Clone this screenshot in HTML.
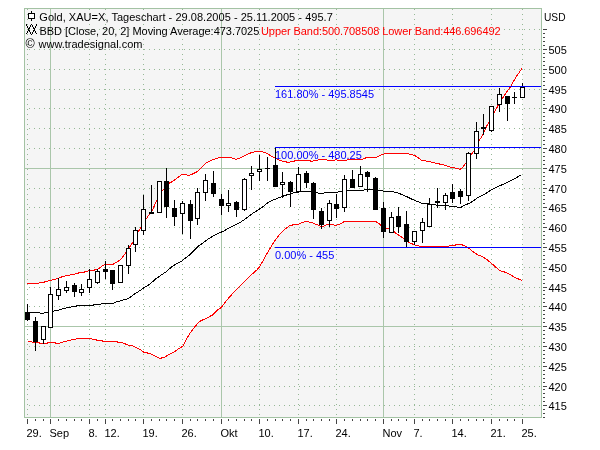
<!DOCTYPE html><html><head><meta charset="utf-8"><title>Gold XAU=X Tageschart</title><style>
html,body{margin:0;padding:0;background:#fff;width:600px;height:450px;overflow:hidden}
svg{display:block;font-family:"Liberation Sans",Arial,sans-serif;font-size:11px}
</style></head><body>
<svg width="600" height="450" viewBox="0 0 600 450">
<rect x="24" y="8" width="518" height="410" fill="#f5f5f5"/>
<polygon points="25,283.5 27,283.5 38,283.5 39,282.8 44,282.2 46,281.5 50,280.5 53,279.7 57,278.8 60,277.8 62,276.8 66,275.8 71,274.8 76,273.8 80,272.5 84,272.5 85.3,271.3 90.7,270.7 94,270.2 96.7,269.3 98.7,268.7 100.7,267 103.3,265.3 106,264.5 112.7,264.5 114.7,263.3 117.3,261.7 120,260 122.7,257 124.7,254.2 126,252 131.2,244.8 132.6,242.6 139.1,230.3 140.6,228.2 146.3,218.8 149.2,214.5 152.1,210.8 154.3,205.8 156.7,200.2 162.4,190.4 163.8,189.1 169.1,183.3 173.1,181.1 176.6,178.4 180.6,175.3 182.4,174.3 186,174.5 188,175.3 191,174.8 194,173.3 197,171.8 201,167.8 206,162.8 211,160.5 216,158.5 220,157.5 230,157.5 233,158.3 236,159.5 241,157.5 246,155 251,152.8 256,151.5 260,151 264,152.2 268,154 272,156.5 275,157.8 279,160 283,161.3 288,162.3 292,161.8 296,160.5 309,160.5 311,161.2 315,160.8 320,159.5 326,159.5 327,160.2 336,160 346,160.2 349,159.5 362,159.5 366,157.8 376,157.5 379,155.8 383,154.3 387,153.2 408,153.2 410,154.5 413,155 416,156.2 421,160 426,161 431,162 436,163.3 441,164.3 446,165.5 451,167.5 456,168.2 460,169.3 463,167 466,163 471,155 474,151 478,142.5 482.7,135 486,127.5 489,122 495,111.3 499.3,103 506,93 511,86 516,77 522,68.5 522.5,68.5 522.5,280.5 522,280.5 516,278 510,274.5 504,271.8 500,270.8 495,266.5 490,262 486,259 482,256.5 478,255 474,252.5 470,249.2 468,247.8 466,246.5 463,245.3 461,244.3 456.5,244.3 455,245.3 450,245.3 449,246 419,246 416,245.3 413,244.2 409,242.5 404,239 400,236 396,233.5 394,231.5 389,228.2 386,228.2 381,226 380,224.5 377,222.2 375.5,221.5 344,221.7 340,224 336,225.3 330,224.5 326,225 323,226.3 320,226 316,224.3 311,222.3 306,221.5 302,222.5 299,224.2 294,224.6 289.1,225.9 283.6,230.4 279.3,234.7 274.4,241.4 270.2,248.1 265.9,255.5 262.2,262.2 259.8,266.5 256.8,270 251.8,274.4 247.7,278.6 240.3,285.9 233,293.2 226.3,300.6 221.4,307.3 217.1,310.3 212.2,315.2 206.1,318.3 200,321.3 199,322 195,326.5 190,333 186,340 183,346.2 179,348.5 174,352 169,354.5 164,357.5 160,358.3 156,356.5 152,354.5 149,353.3 144,352.3 140,349.5 136,347.5 134,346.3 129,345.2 126,344.3 124,343.3 122,342.5 118,342.2 116,341.3 103,341.3 102,340.5 97,340.2 96,339.7 92,339.2 91,338.3 84,338.3 78,338.5 72,339.8 68,340.8 64,341.8 61,342.5 59,343.3 56,343.3 55,342.5 48,342.5 47,343.3 40,343.3 39,342.5 32,342 28,341.3 25,341.3" fill="#ffffff"/>
<line x1="25" y1="405.5" x2="541" y2="405.5" stroke="#96b896" stroke-width="1" stroke-dasharray="1 4" stroke-dashoffset="-4"/>
<line x1="25" y1="386.5" x2="541" y2="386.5" stroke="#96b896" stroke-width="1" stroke-dasharray="1 4" stroke-dashoffset="-4"/>
<line x1="25" y1="366.5" x2="541" y2="366.5" stroke="#96b896" stroke-width="1" stroke-dasharray="1 4" stroke-dashoffset="-4"/>
<line x1="25" y1="346.5" x2="541" y2="346.5" stroke="#96b896" stroke-width="1" stroke-dasharray="1 4" stroke-dashoffset="-4"/>
<line x1="25" y1="326.5" x2="541" y2="326.5" stroke="#96b896" stroke-width="1" stroke-dasharray="1 4" stroke-dashoffset="-4"/>
<line x1="25" y1="306.5" x2="541" y2="306.5" stroke="#96b896" stroke-width="1" stroke-dasharray="1 4" stroke-dashoffset="-4"/>
<line x1="25" y1="287.5" x2="541" y2="287.5" stroke="#96b896" stroke-width="1" stroke-dasharray="1 4" stroke-dashoffset="-4"/>
<line x1="25" y1="267.5" x2="541" y2="267.5" stroke="#96b896" stroke-width="1" stroke-dasharray="1 4" stroke-dashoffset="-4"/>
<line x1="25" y1="247.5" x2="541" y2="247.5" stroke="#96b896" stroke-width="1" stroke-dasharray="1 4" stroke-dashoffset="-4"/>
<line x1="25" y1="227.5" x2="541" y2="227.5" stroke="#96b896" stroke-width="1" stroke-dasharray="1 4" stroke-dashoffset="-4"/>
<line x1="25" y1="207.5" x2="541" y2="207.5" stroke="#96b896" stroke-width="1" stroke-dasharray="1 4" stroke-dashoffset="-4"/>
<line x1="25" y1="188.5" x2="541" y2="188.5" stroke="#96b896" stroke-width="1" stroke-dasharray="1 4" stroke-dashoffset="-4"/>
<line x1="25" y1="168.5" x2="541" y2="168.5" stroke="#96b896" stroke-width="1" stroke-dasharray="1 4" stroke-dashoffset="-4"/>
<line x1="25" y1="148.5" x2="541" y2="148.5" stroke="#96b896" stroke-width="1" stroke-dasharray="1 4" stroke-dashoffset="-4"/>
<line x1="25" y1="128.5" x2="541" y2="128.5" stroke="#96b896" stroke-width="1" stroke-dasharray="1 4" stroke-dashoffset="-4"/>
<line x1="25" y1="108.5" x2="541" y2="108.5" stroke="#96b896" stroke-width="1" stroke-dasharray="1 4" stroke-dashoffset="-4"/>
<line x1="25" y1="89.5" x2="541" y2="89.5" stroke="#96b896" stroke-width="1" stroke-dasharray="1 4" stroke-dashoffset="-4"/>
<line x1="25" y1="69.5" x2="541" y2="69.5" stroke="#96b896" stroke-width="1" stroke-dasharray="1 4" stroke-dashoffset="-4"/>
<line x1="25" y1="49.5" x2="541" y2="49.5" stroke="#96b896" stroke-width="1" stroke-dasharray="1 4" stroke-dashoffset="-4"/>
<line x1="25" y1="29.5" x2="541" y2="29.5" stroke="#96b896" stroke-width="1" stroke-dasharray="1 4" stroke-dashoffset="-4"/>
<line x1="27.5" y1="9" x2="27.5" y2="417" stroke="#96b896" stroke-width="1" stroke-dasharray="1 4"/>
<line x1="89.5" y1="9" x2="89.5" y2="417" stroke="#96b896" stroke-width="1" stroke-dasharray="1 4"/>
<line x1="105.5" y1="9" x2="105.5" y2="417" stroke="#96b896" stroke-width="1" stroke-dasharray="1 4"/>
<line x1="143.5" y1="9" x2="143.5" y2="417" stroke="#96b896" stroke-width="1" stroke-dasharray="1 4"/>
<line x1="182.5" y1="9" x2="182.5" y2="417" stroke="#96b896" stroke-width="1" stroke-dasharray="1 4"/>
<line x1="259.5" y1="9" x2="259.5" y2="417" stroke="#96b896" stroke-width="1" stroke-dasharray="1 4"/>
<line x1="298.5" y1="9" x2="298.5" y2="417" stroke="#96b896" stroke-width="1" stroke-dasharray="1 4"/>
<line x1="336.5" y1="9" x2="336.5" y2="417" stroke="#96b896" stroke-width="1" stroke-dasharray="1 4"/>
<line x1="414.5" y1="9" x2="414.5" y2="417" stroke="#96b896" stroke-width="1" stroke-dasharray="1 4"/>
<line x1="452.5" y1="9" x2="452.5" y2="417" stroke="#96b896" stroke-width="1" stroke-dasharray="1 4"/>
<line x1="491.5" y1="9" x2="491.5" y2="417" stroke="#96b896" stroke-width="1" stroke-dasharray="1 4"/>
<line x1="522.5" y1="9" x2="522.5" y2="417" stroke="#96b896" stroke-width="1" stroke-dasharray="1 4"/>
<line x1="25" y1="326.5" x2="541" y2="326.5" stroke="#aac6aa" stroke-width="1"/>
<line x1="25" y1="168.5" x2="541" y2="168.5" stroke="#aac6aa" stroke-width="1"/>
<line x1="50.5" y1="9" x2="50.5" y2="417" stroke="#aac6aa" stroke-width="1"/>
<line x1="221.5" y1="9" x2="221.5" y2="417" stroke="#aac6aa" stroke-width="1"/>
<line x1="383.5" y1="9" x2="383.5" y2="417" stroke="#aac6aa" stroke-width="1"/>
<rect x="24.5" y="8.5" width="517" height="409" fill="none" stroke="#a3c2a3" stroke-width="1"/>
<polyline points="27,283.5 38,283.5 39,282.8 44,282.2 46,281.5 50,280.5 53,279.7 57,278.8 60,277.8 62,276.8 66,275.8 71,274.8 76,273.8 80,272.5 84,272.5 85.3,271.3 90.7,270.7 94,270.2 96.7,269.3 98.7,268.7 100.7,267 103.3,265.3 106,264.5 112.7,264.5 114.7,263.3 117.3,261.7 120,260 122.7,257 124.7,254.2 126,252 131.2,244.8 132.6,242.6 139.1,230.3 140.6,228.2 146.3,218.8 149.2,214.5 152.1,210.8 154.3,205.8 156.7,200.2 162.4,190.4 163.8,189.1 169.1,183.3 173.1,181.1 176.6,178.4 180.6,175.3 182.4,174.3 186,174.5 188,175.3 191,174.8 194,173.3 197,171.8 201,167.8 206,162.8 211,160.5 216,158.5 220,157.5 230,157.5 233,158.3 236,159.5 241,157.5 246,155 251,152.8 256,151.5 260,151 264,152.2 268,154 272,156.5 275,157.8 279,160 283,161.3 288,162.3 292,161.8 296,160.5 309,160.5 311,161.2 315,160.8 320,159.5 326,159.5 327,160.2 336,160 346,160.2 349,159.5 362,159.5 366,157.8 376,157.5 379,155.8 383,154.3 387,153.2 408,153.2 410,154.5 413,155 416,156.2 421,160 426,161 431,162 436,163.3 441,164.3 446,165.5 451,167.5 456,168.2 460,169.3 463,167 466,163 471,155 474,151 478,142.5 482.7,135 486,127.5 489,122 495,111.3 499.3,103 506,93 511,86 516,77 522,68.5" fill="none" stroke="#ff0000" stroke-width="1" shape-rendering="crispEdges"/>
<polyline points="28,341.3 32,342 39,342.5 40,343.3 47,343.3 48,342.5 55,342.5 56,343.3 59,343.3 61,342.5 64,341.8 68,340.8 72,339.8 78,338.5 84,338.3 91,338.3 92,339.2 96,339.7 97,340.2 102,340.5 103,341.3 116,341.3 118,342.2 122,342.5 124,343.3 126,344.3 129,345.2 134,346.3 136,347.5 140,349.5 144,352.3 149,353.3 152,354.5 156,356.5 160,358.3 164,357.5 169,354.5 174,352 179,348.5 183,346.2 186,340 190,333 195,326.5 199,322 200,321.3 206.1,318.3 212.2,315.2 217.1,310.3 221.4,307.3 226.3,300.6 233,293.2 240.3,285.9 247.7,278.6 251.8,274.4 256.8,270 259.8,266.5 262.2,262.2 265.9,255.5 270.2,248.1 274.4,241.4 279.3,234.7 283.6,230.4 289.1,225.9 294,224.6 299,224.2 302,222.5 306,221.5 311,222.3 316,224.3 320,226 323,226.3 326,225 330,224.5 336,225.3 340,224 344,221.7 375.5,221.5 377,222.2 380,224.5 381,226 386,228.2 389,228.2 394,231.5 396,233.5 400,236 404,239 409,242.5 413,244.2 416,245.3 419,246 449,246 450,245.3 455,245.3 456.5,244.3 461,244.3 463,245.3 466,246.5 468,247.8 470,249.2 474,252.5 478,255 482,256.5 486,259 490,262 495,266.5 500,270.8 504,271.8 510,274.5 516,278 522,280.5" fill="none" stroke="#ff0000" stroke-width="1" shape-rendering="crispEdges"/>
<polyline points="25,312.2 39,312.2 40,313.2 44,313.2 45,312.2 48,312.2 53,311.2 59,310.2 60,309.2 64,308.8 66,308 70,307.2 74,306.5 78,305.7 84,305.4 93,305.3 94,304.5 101,304 102,303.3 114,303 115,302.3 119,301.3 122,300.3 126,299.3 130,297.5 133,295 137,292.5 140,290.5 144,287.7 149.6,284.4 155.1,279.4 160.7,275.3 166.2,271.7 171.8,266.7 177.3,263.3 181.8,261.1 185.1,258.3 189.6,255 194,250.6 198.4,246.1 204,242.2 209,238.5 214,235.5 219,233 224,231 229,228 234,225.5 239,223 244,220 249,216 254,212.5 259,209.5 264,205.8 268,202.5 272,200.5 277,198.5 282,196.5 285,195.5 289,194.2 293,193 297,192.3 302,191.5 310,191.5 312,192 317,192.8 318.5,193.3 324,193 325,192.3 338,192.3 339,191.3 342,191.3 347,190 364,190 365,189.2 373,189.2 378,190 382,190.8 384,191.2 392.5,191.2 394,192 397,192.8 400,193.8 403,195 407,196.8 411,198.8 415,200.5 419,202 422,203.3 426,203.3 430,204 434,204.8 440,205.3 444,205.3 449.3,206 457.3,207.1 461.3,207.1 465.3,204.9 470.7,202.7 477.3,198 484,194.7 492,189.3 500,185.7 508,182 514.7,178.7 521.3,174.7" fill="none" stroke="#000000" stroke-width="1" shape-rendering="crispEdges"/>
<g shape-rendering="crispEdges">
<rect x="27" y="304" width="1" height="9" fill="#000"/>
<rect x="27" y="320" width="1" height="1" fill="#000"/>
<rect x="25" y="313" width="5" height="7" fill="#000"/>
<rect x="35" y="317" width="1" height="4" fill="#000"/>
<rect x="35" y="342" width="1" height="9" fill="#000"/>
<rect x="33" y="321" width="5" height="21" fill="#000"/>
<rect x="43" y="340" width="1" height="4" fill="#000"/>
<rect x="41" y="326" width="5" height="14" fill="#000"/>
<rect x="42" y="327" width="3" height="12" fill="#fff"/>
<rect x="50" y="287" width="1" height="7" fill="#000"/>
<rect x="48" y="294" width="5" height="34" fill="#000"/>
<rect x="49" y="295" width="3" height="32" fill="#fff"/>
<rect x="58" y="278" width="1" height="11" fill="#000"/>
<rect x="58" y="296" width="1" height="4" fill="#000"/>
<rect x="56" y="289" width="5" height="7" fill="#000"/>
<rect x="57" y="290" width="3" height="5" fill="#fff"/>
<rect x="66" y="281" width="1" height="6" fill="#000"/>
<rect x="66" y="291" width="1" height="2" fill="#000"/>
<rect x="64" y="287" width="5" height="4" fill="#000"/>
<rect x="65" y="288" width="3" height="2" fill="#fff"/>
<rect x="74" y="283" width="1" height="2" fill="#000"/>
<rect x="74" y="292" width="1" height="5" fill="#000"/>
<rect x="72" y="285" width="5" height="7" fill="#000"/>
<rect x="81" y="284" width="1" height="5" fill="#000"/>
<rect x="81" y="293" width="1" height="3" fill="#000"/>
<rect x="79" y="289" width="5" height="4" fill="#000"/>
<rect x="80" y="290" width="3" height="2" fill="#fff"/>
<rect x="89" y="269" width="1" height="10" fill="#000"/>
<rect x="89" y="288" width="1" height="5" fill="#000"/>
<rect x="87" y="279" width="5" height="9" fill="#000"/>
<rect x="88" y="280" width="3" height="7" fill="#fff"/>
<rect x="97" y="269" width="1" height="2" fill="#000"/>
<rect x="97" y="283" width="1" height="1" fill="#000"/>
<rect x="95" y="271" width="5" height="12" fill="#000"/>
<rect x="96" y="272" width="3" height="10" fill="#fff"/>
<rect x="105" y="261" width="1" height="8" fill="#000"/>
<rect x="105" y="272" width="1" height="7" fill="#000"/>
<rect x="103" y="269" width="5" height="3" fill="#000"/>
<rect x="112" y="284" width="1" height="6" fill="#000"/>
<rect x="110" y="270" width="5" height="14" fill="#000"/>
<rect x="118" y="265" width="5" height="18" fill="#000"/>
<rect x="119" y="266" width="3" height="16" fill="#fff"/>
<rect x="128" y="245" width="1" height="3" fill="#000"/>
<rect x="128" y="266" width="1" height="8" fill="#000"/>
<rect x="126" y="248" width="5" height="18" fill="#000"/>
<rect x="127" y="249" width="3" height="16" fill="#fff"/>
<rect x="135" y="227" width="1" height="3" fill="#000"/>
<rect x="135" y="245" width="1" height="7" fill="#000"/>
<rect x="133" y="230" width="5" height="15" fill="#000"/>
<rect x="134" y="231" width="3" height="13" fill="#fff"/>
<rect x="143" y="195" width="1" height="14" fill="#000"/>
<rect x="143" y="231" width="1" height="4" fill="#000"/>
<rect x="141" y="209" width="5" height="22" fill="#000"/>
<rect x="142" y="210" width="3" height="20" fill="#fff"/>
<rect x="151" y="185" width="1" height="27" fill="#000"/>
<rect x="149" y="212" width="5" height="2" fill="#000"/>
<rect x="157" y="181" width="5" height="32" fill="#000"/>
<rect x="158" y="182" width="3" height="30" fill="#fff"/>
<rect x="166" y="168" width="1" height="13" fill="#000"/>
<rect x="166" y="207" width="1" height="11" fill="#000"/>
<rect x="164" y="181" width="5" height="26" fill="#000"/>
<rect x="174" y="200" width="1" height="8" fill="#000"/>
<rect x="174" y="217" width="1" height="9" fill="#000"/>
<rect x="172" y="208" width="5" height="9" fill="#000"/>
<rect x="182" y="201" width="1" height="2" fill="#000"/>
<rect x="182" y="214" width="1" height="20" fill="#000"/>
<rect x="180" y="203" width="5" height="11" fill="#000"/>
<rect x="181" y="204" width="3" height="9" fill="#fff"/>
<rect x="190" y="200" width="1" height="4" fill="#000"/>
<rect x="190" y="221" width="1" height="18" fill="#000"/>
<rect x="188" y="204" width="5" height="17" fill="#000"/>
<rect x="197" y="188" width="1" height="4" fill="#000"/>
<rect x="197" y="219" width="1" height="6" fill="#000"/>
<rect x="195" y="192" width="5" height="27" fill="#000"/>
<rect x="196" y="193" width="3" height="25" fill="#fff"/>
<rect x="205" y="174" width="1" height="6" fill="#000"/>
<rect x="205" y="193" width="1" height="8" fill="#000"/>
<rect x="203" y="180" width="5" height="13" fill="#000"/>
<rect x="204" y="181" width="3" height="11" fill="#fff"/>
<rect x="213" y="171" width="1" height="12" fill="#000"/>
<rect x="213" y="194" width="1" height="3" fill="#000"/>
<rect x="211" y="183" width="5" height="11" fill="#000"/>
<rect x="221" y="194" width="1" height="5" fill="#000"/>
<rect x="221" y="206" width="1" height="9" fill="#000"/>
<rect x="219" y="199" width="5" height="7" fill="#000"/>
<rect x="228" y="190" width="1" height="13" fill="#000"/>
<rect x="228" y="206" width="1" height="6" fill="#000"/>
<rect x="226" y="203" width="5" height="3" fill="#000"/>
<rect x="227" y="204" width="3" height="1" fill="#fff"/>
<rect x="236" y="201" width="1" height="1" fill="#000"/>
<rect x="236" y="210" width="1" height="7" fill="#000"/>
<rect x="234" y="202" width="5" height="8" fill="#000"/>
<rect x="244" y="178" width="1" height="1" fill="#000"/>
<rect x="244" y="210" width="1" height="1" fill="#000"/>
<rect x="242" y="179" width="5" height="31" fill="#000"/>
<rect x="243" y="180" width="3" height="29" fill="#fff"/>
<rect x="251" y="166" width="1" height="7" fill="#000"/>
<rect x="251" y="176" width="1" height="14" fill="#000"/>
<rect x="249" y="173" width="5" height="3" fill="#000"/>
<rect x="250" y="174" width="3" height="1" fill="#fff"/>
<rect x="259" y="155" width="1" height="14" fill="#000"/>
<rect x="259" y="172" width="1" height="9" fill="#000"/>
<rect x="257" y="169" width="5" height="3" fill="#000"/>
<rect x="258" y="170" width="3" height="1" fill="#fff"/>
<rect x="267" y="157" width="1" height="11" fill="#000"/>
<rect x="267" y="169" width="1" height="12" fill="#000"/>
<rect x="265" y="168" width="5" height="1" fill="#000"/>
<rect x="275" y="148" width="1" height="17" fill="#000"/>
<rect x="273" y="165" width="5" height="22" fill="#000"/>
<rect x="282" y="172" width="1" height="10" fill="#000"/>
<rect x="282" y="185" width="1" height="13" fill="#000"/>
<rect x="280" y="182" width="5" height="3" fill="#000"/>
<rect x="281" y="183" width="3" height="1" fill="#fff"/>
<rect x="290" y="181" width="1" height="1" fill="#000"/>
<rect x="290" y="192" width="1" height="15" fill="#000"/>
<rect x="288" y="182" width="5" height="10" fill="#000"/>
<rect x="298" y="167" width="1" height="7" fill="#000"/>
<rect x="296" y="174" width="5" height="18" fill="#000"/>
<rect x="297" y="175" width="3" height="16" fill="#fff"/>
<rect x="306" y="171" width="1" height="2" fill="#000"/>
<rect x="306" y="183" width="1" height="5" fill="#000"/>
<rect x="304" y="173" width="5" height="10" fill="#000"/>
<rect x="313" y="182" width="1" height="1" fill="#000"/>
<rect x="313" y="210" width="1" height="9" fill="#000"/>
<rect x="311" y="183" width="5" height="27" fill="#000"/>
<rect x="321" y="208" width="1" height="3" fill="#000"/>
<rect x="321" y="225" width="1" height="4" fill="#000"/>
<rect x="319" y="211" width="5" height="14" fill="#000"/>
<rect x="329" y="200" width="1" height="3" fill="#000"/>
<rect x="329" y="221" width="1" height="6" fill="#000"/>
<rect x="327" y="203" width="5" height="18" fill="#000"/>
<rect x="328" y="204" width="3" height="16" fill="#fff"/>
<rect x="336" y="194" width="1" height="10" fill="#000"/>
<rect x="336" y="209" width="1" height="9" fill="#000"/>
<rect x="334" y="204" width="5" height="5" fill="#000"/>
<rect x="344" y="175" width="1" height="4" fill="#000"/>
<rect x="344" y="208" width="1" height="4" fill="#000"/>
<rect x="342" y="179" width="5" height="29" fill="#000"/>
<rect x="343" y="180" width="3" height="27" fill="#fff"/>
<rect x="352" y="170" width="1" height="9" fill="#000"/>
<rect x="350" y="179" width="5" height="9" fill="#000"/>
<rect x="360" y="166" width="1" height="8" fill="#000"/>
<rect x="358" y="174" width="5" height="13" fill="#000"/>
<rect x="359" y="175" width="3" height="11" fill="#fff"/>
<rect x="367" y="171" width="1" height="1" fill="#000"/>
<rect x="367" y="177" width="1" height="15" fill="#000"/>
<rect x="365" y="172" width="5" height="5" fill="#000"/>
<rect x="375" y="177" width="1" height="1" fill="#000"/>
<rect x="373" y="178" width="5" height="32" fill="#000"/>
<rect x="383" y="202" width="1" height="6" fill="#000"/>
<rect x="383" y="232" width="1" height="6" fill="#000"/>
<rect x="381" y="208" width="5" height="24" fill="#000"/>
<rect x="391" y="212" width="1" height="5" fill="#000"/>
<rect x="389" y="217" width="5" height="16" fill="#000"/>
<rect x="390" y="218" width="3" height="14" fill="#fff"/>
<rect x="398" y="207" width="1" height="9" fill="#000"/>
<rect x="398" y="227" width="1" height="6" fill="#000"/>
<rect x="396" y="216" width="5" height="11" fill="#000"/>
<rect x="406" y="211" width="1" height="13" fill="#000"/>
<rect x="406" y="242" width="1" height="5" fill="#000"/>
<rect x="404" y="224" width="5" height="18" fill="#000"/>
<rect x="414" y="242" width="1" height="3" fill="#000"/>
<rect x="412" y="231" width="5" height="11" fill="#000"/>
<rect x="413" y="232" width="3" height="9" fill="#fff"/>
<rect x="422" y="218" width="1" height="4" fill="#000"/>
<rect x="422" y="231" width="1" height="12" fill="#000"/>
<rect x="420" y="222" width="5" height="9" fill="#000"/>
<rect x="421" y="223" width="3" height="7" fill="#fff"/>
<rect x="429" y="198" width="1" height="6" fill="#000"/>
<rect x="427" y="204" width="5" height="23" fill="#000"/>
<rect x="428" y="205" width="3" height="21" fill="#fff"/>
<rect x="437" y="188" width="1" height="13" fill="#000"/>
<rect x="437" y="203" width="1" height="5" fill="#000"/>
<rect x="435" y="201" width="5" height="2" fill="#000"/>
<rect x="445" y="193" width="1" height="2" fill="#000"/>
<rect x="445" y="203" width="1" height="7" fill="#000"/>
<rect x="443" y="195" width="5" height="8" fill="#000"/>
<rect x="444" y="196" width="3" height="6" fill="#fff"/>
<rect x="452" y="184" width="1" height="8" fill="#000"/>
<rect x="452" y="199" width="1" height="4" fill="#000"/>
<rect x="450" y="192" width="5" height="7" fill="#000"/>
<rect x="460" y="189" width="1" height="2" fill="#000"/>
<rect x="460" y="197" width="1" height="7" fill="#000"/>
<rect x="458" y="191" width="5" height="6" fill="#000"/>
<rect x="468" y="152" width="1" height="1" fill="#000"/>
<rect x="468" y="196" width="1" height="5" fill="#000"/>
<rect x="466" y="153" width="5" height="43" fill="#000"/>
<rect x="467" y="154" width="3" height="41" fill="#fff"/>
<rect x="476" y="122" width="1" height="9" fill="#000"/>
<rect x="476" y="154" width="1" height="5" fill="#000"/>
<rect x="474" y="131" width="5" height="23" fill="#000"/>
<rect x="475" y="132" width="3" height="21" fill="#fff"/>
<rect x="483" y="114" width="1" height="13" fill="#000"/>
<rect x="483" y="129" width="1" height="6" fill="#000"/>
<rect x="481" y="127" width="5" height="2" fill="#000"/>
<rect x="491" y="131" width="1" height="1" fill="#000"/>
<rect x="489" y="106" width="5" height="25" fill="#000"/>
<rect x="490" y="107" width="3" height="23" fill="#fff"/>
<rect x="499" y="88" width="1" height="6" fill="#000"/>
<rect x="499" y="105" width="1" height="7" fill="#000"/>
<rect x="497" y="94" width="5" height="11" fill="#000"/>
<rect x="498" y="95" width="3" height="9" fill="#fff"/>
<rect x="507" y="104" width="1" height="17" fill="#000"/>
<rect x="505" y="96" width="5" height="8" fill="#000"/>
<rect x="514" y="92" width="1" height="5" fill="#000"/>
<rect x="514" y="98" width="1" height="6" fill="#000"/>
<rect x="512" y="97" width="5" height="1" fill="#000"/>
<rect x="522" y="83" width="1" height="4" fill="#000"/>
<rect x="520" y="87" width="5" height="11" fill="#000"/>
<rect x="521" y="88" width="3" height="9" fill="#fff"/>
</g>
<rect x="275" y="86" width="266" height="1" fill="#0000ff" shape-rendering="crispEdges"/>
<rect x="275" y="147" width="266" height="1" fill="#0000ff" shape-rendering="crispEdges"/>
<rect x="275" y="247" width="266" height="1" fill="#0000ff" shape-rendering="crispEdges"/>
<g fill="#0000ff">
<text x="275" y="98">161.80% - 495.8545</text>
<text x="275" y="159">100.00% - 480.25</text>
<text x="275" y="259">0.00% - 455</text>
</g>
<g shape-rendering="crispEdges">
<rect x="31" y="11" width="1" height="2" fill="#000"/>
<rect x="31" y="19" width="1" height="2" fill="#000"/>
<rect x="28.5" y="13.5" width="6" height="5" fill="#fff" stroke="#000" stroke-width="1"/>
</g>
<path d="M26.5,24.5 L28.5,29.5 L31.5,24.5 L34.5,29.5 L36.5,24.5 M26.5,34.5 L28.5,29.5 L31.5,34.5 L34.5,29.5 L36.5,34.5" fill="none" stroke="#000" stroke-width="1" shape-rendering="crispEdges"/>
<text x="39.3" y="21" textLength="293.5" lengthAdjust="spacing">Gold, XAU=X, Tageschart - 29.08.2005 - 25.11.2005 - 495.7</text>
<text x="39.5" y="34.5" textLength="219.8" lengthAdjust="spacing">BBD [Close, 20, 2] Moving Average:473.7025</text>
<text x="261" y="34.5" fill="#ff0000" textLength="239.6" lengthAdjust="spacing">Upper Band:500.708508 Lower Band:446.696492</text>
<text x="25.5" y="48" style="font-size:12.5px">©</text><text x="38.5" y="48">www.tradesignal.com</text>
<g shape-rendering="crispEdges" fill="#444">
<rect x="543" y="417" width="2" height="1"/>
<rect x="543" y="413" width="2" height="1"/>
<rect x="543" y="409" width="2" height="1"/>
<rect x="543" y="405" width="4" height="1"/>
<rect x="543" y="401" width="2" height="1"/>
<rect x="543" y="397" width="2" height="1"/>
<rect x="543" y="393" width="2" height="1"/>
<rect x="543" y="389" width="2" height="1"/>
<rect x="543" y="386" width="4" height="1"/>
<rect x="543" y="382" width="2" height="1"/>
<rect x="543" y="378" width="2" height="1"/>
<rect x="543" y="374" width="2" height="1"/>
<rect x="543" y="370" width="2" height="1"/>
<rect x="543" y="366" width="4" height="1"/>
<rect x="543" y="362" width="2" height="1"/>
<rect x="543" y="358" width="2" height="1"/>
<rect x="543" y="354" width="2" height="1"/>
<rect x="543" y="350" width="2" height="1"/>
<rect x="543" y="346" width="4" height="1"/>
<rect x="543" y="342" width="2" height="1"/>
<rect x="543" y="338" width="2" height="1"/>
<rect x="543" y="334" width="2" height="1"/>
<rect x="543" y="330" width="2" height="1"/>
<rect x="543" y="326" width="4" height="1"/>
<rect x="543" y="322" width="2" height="1"/>
<rect x="543" y="318" width="2" height="1"/>
<rect x="543" y="314" width="2" height="1"/>
<rect x="543" y="310" width="2" height="1"/>
<rect x="543" y="306" width="4" height="1"/>
<rect x="543" y="302" width="2" height="1"/>
<rect x="543" y="298" width="2" height="1"/>
<rect x="543" y="294" width="2" height="1"/>
<rect x="543" y="290" width="2" height="1"/>
<rect x="543" y="287" width="4" height="1"/>
<rect x="543" y="283" width="2" height="1"/>
<rect x="543" y="279" width="2" height="1"/>
<rect x="543" y="275" width="2" height="1"/>
<rect x="543" y="271" width="2" height="1"/>
<rect x="543" y="267" width="4" height="1"/>
<rect x="543" y="263" width="2" height="1"/>
<rect x="543" y="259" width="2" height="1"/>
<rect x="543" y="255" width="2" height="1"/>
<rect x="543" y="251" width="2" height="1"/>
<rect x="543" y="247" width="4" height="1"/>
<rect x="543" y="243" width="2" height="1"/>
<rect x="543" y="239" width="2" height="1"/>
<rect x="543" y="235" width="2" height="1"/>
<rect x="543" y="231" width="2" height="1"/>
<rect x="543" y="227" width="4" height="1"/>
<rect x="543" y="223" width="2" height="1"/>
<rect x="543" y="219" width="2" height="1"/>
<rect x="543" y="215" width="2" height="1"/>
<rect x="543" y="211" width="2" height="1"/>
<rect x="543" y="207" width="4" height="1"/>
<rect x="543" y="203" width="2" height="1"/>
<rect x="543" y="199" width="2" height="1"/>
<rect x="543" y="195" width="2" height="1"/>
<rect x="543" y="192" width="2" height="1"/>
<rect x="543" y="188" width="4" height="1"/>
<rect x="543" y="184" width="2" height="1"/>
<rect x="543" y="180" width="2" height="1"/>
<rect x="543" y="176" width="2" height="1"/>
<rect x="543" y="172" width="2" height="1"/>
<rect x="543" y="168" width="4" height="1"/>
<rect x="543" y="164" width="2" height="1"/>
<rect x="543" y="160" width="2" height="1"/>
<rect x="543" y="156" width="2" height="1"/>
<rect x="543" y="152" width="2" height="1"/>
<rect x="543" y="148" width="4" height="1"/>
<rect x="543" y="144" width="2" height="1"/>
<rect x="543" y="140" width="2" height="1"/>
<rect x="543" y="136" width="2" height="1"/>
<rect x="543" y="132" width="2" height="1"/>
<rect x="543" y="128" width="4" height="1"/>
<rect x="543" y="124" width="2" height="1"/>
<rect x="543" y="120" width="2" height="1"/>
<rect x="543" y="116" width="2" height="1"/>
<rect x="543" y="112" width="2" height="1"/>
<rect x="543" y="108" width="4" height="1"/>
<rect x="543" y="104" width="2" height="1"/>
<rect x="543" y="100" width="2" height="1"/>
<rect x="543" y="97" width="2" height="1"/>
<rect x="543" y="93" width="2" height="1"/>
<rect x="543" y="89" width="4" height="1"/>
<rect x="543" y="85" width="2" height="1"/>
<rect x="543" y="81" width="2" height="1"/>
<rect x="543" y="77" width="2" height="1"/>
<rect x="543" y="73" width="2" height="1"/>
<rect x="543" y="69" width="4" height="1"/>
<rect x="543" y="65" width="2" height="1"/>
<rect x="543" y="61" width="2" height="1"/>
<rect x="543" y="57" width="2" height="1"/>
<rect x="543" y="53" width="2" height="1"/>
<rect x="543" y="49" width="4" height="1"/>
<rect x="543" y="45" width="2" height="1"/>
<rect x="543" y="41" width="2" height="1"/>
<rect x="543" y="37" width="2" height="1"/>
<rect x="543" y="33" width="2" height="1"/>
<rect x="543" y="29" width="4" height="1"/>
</g>
<g fill="#000">
<text x="548.5" y="410">415</text>
<text x="548.5" y="391">420</text>
<text x="548.5" y="371">425</text>
<text x="548.5" y="351">430</text>
<text x="548.5" y="331">435</text>
<text x="548.5" y="311">440</text>
<text x="548.5" y="292">445</text>
<text x="548.5" y="272">450</text>
<text x="548.5" y="252">455</text>
<text x="548.5" y="232">460</text>
<text x="548.5" y="212">465</text>
<text x="548.5" y="193">470</text>
<text x="548.5" y="173">475</text>
<text x="548.5" y="153">480</text>
<text x="548.5" y="133">485</text>
<text x="548.5" y="113">490</text>
<text x="548.5" y="94">495</text>
<text x="548.5" y="74">500</text>
<text x="548.5" y="54">505</text>
<text x="544" y="21" textLength="21.5" lengthAdjust="spacingAndGlyphs">USD</text>
</g>
<g shape-rendering="crispEdges" fill="#444">
<rect x="27" y="419" width="1" height="5"/>
<rect x="35" y="419" width="1" height="2"/>
<rect x="43" y="419" width="1" height="2"/>
<rect x="50" y="419" width="1" height="5"/>
<rect x="58" y="419" width="1" height="2"/>
<rect x="66" y="419" width="1" height="2"/>
<rect x="74" y="419" width="1" height="2"/>
<rect x="81" y="419" width="1" height="2"/>
<rect x="89" y="419" width="1" height="5"/>
<rect x="97" y="419" width="1" height="2"/>
<rect x="105" y="419" width="1" height="5"/>
<rect x="112" y="419" width="1" height="2"/>
<rect x="120" y="419" width="1" height="2"/>
<rect x="128" y="419" width="1" height="2"/>
<rect x="135" y="419" width="1" height="2"/>
<rect x="143" y="419" width="1" height="5"/>
<rect x="151" y="419" width="1" height="2"/>
<rect x="159" y="419" width="1" height="2"/>
<rect x="166" y="419" width="1" height="2"/>
<rect x="174" y="419" width="1" height="2"/>
<rect x="182" y="419" width="1" height="5"/>
<rect x="190" y="419" width="1" height="2"/>
<rect x="197" y="419" width="1" height="2"/>
<rect x="205" y="419" width="1" height="2"/>
<rect x="213" y="419" width="1" height="2"/>
<rect x="221" y="419" width="1" height="5"/>
<rect x="228" y="419" width="1" height="2"/>
<rect x="236" y="419" width="1" height="2"/>
<rect x="244" y="419" width="1" height="2"/>
<rect x="251" y="419" width="1" height="2"/>
<rect x="259" y="419" width="1" height="5"/>
<rect x="267" y="419" width="1" height="2"/>
<rect x="275" y="419" width="1" height="2"/>
<rect x="282" y="419" width="1" height="2"/>
<rect x="290" y="419" width="1" height="2"/>
<rect x="298" y="419" width="1" height="5"/>
<rect x="306" y="419" width="1" height="2"/>
<rect x="313" y="419" width="1" height="2"/>
<rect x="321" y="419" width="1" height="2"/>
<rect x="329" y="419" width="1" height="2"/>
<rect x="336" y="419" width="1" height="5"/>
<rect x="344" y="419" width="1" height="2"/>
<rect x="352" y="419" width="1" height="2"/>
<rect x="360" y="419" width="1" height="2"/>
<rect x="367" y="419" width="1" height="2"/>
<rect x="375" y="419" width="1" height="2"/>
<rect x="383" y="419" width="1" height="5"/>
<rect x="391" y="419" width="1" height="2"/>
<rect x="398" y="419" width="1" height="2"/>
<rect x="406" y="419" width="1" height="2"/>
<rect x="414" y="419" width="1" height="5"/>
<rect x="422" y="419" width="1" height="2"/>
<rect x="429" y="419" width="1" height="2"/>
<rect x="437" y="419" width="1" height="2"/>
<rect x="445" y="419" width="1" height="2"/>
<rect x="452" y="419" width="1" height="5"/>
<rect x="460" y="419" width="1" height="2"/>
<rect x="468" y="419" width="1" height="2"/>
<rect x="476" y="419" width="1" height="2"/>
<rect x="483" y="419" width="1" height="2"/>
<rect x="491" y="419" width="1" height="5"/>
<rect x="499" y="419" width="1" height="2"/>
<rect x="507" y="419" width="1" height="2"/>
<rect x="514" y="419" width="1" height="2"/>
<rect x="522" y="419" width="1" height="5"/>
</g>
<g fill="#000">
<text x="26.5" y="437">29.</text>
<text x="49.5" y="437">Sep</text>
<text x="88.5" y="437">8.</text>
<text x="104.5" y="437">12.</text>
<text x="142.5" y="437">19.</text>
<text x="181.5" y="437">26.</text>
<text x="220.5" y="437">Okt</text>
<text x="258.5" y="437">10.</text>
<text x="297.5" y="437">17.</text>
<text x="335.5" y="437">24.</text>
<text x="382.5" y="437">Nov</text>
<text x="413.5" y="437">7.</text>
<text x="451.5" y="437">14.</text>
<text x="490.5" y="437">21.</text>
<text x="521.5" y="437">25.</text>
</g>
</svg></body></html>
